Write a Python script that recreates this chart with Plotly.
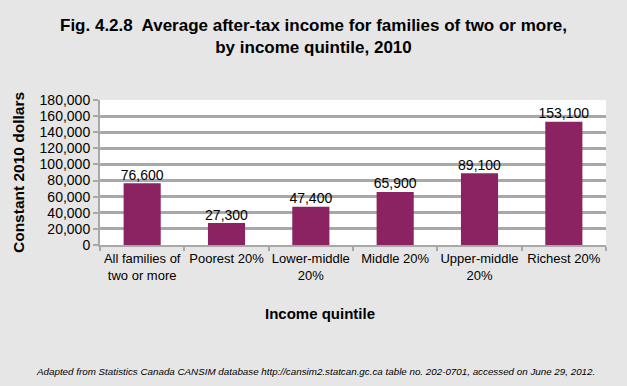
import plotly.graph_objects as go

categories = ["All families of<br>two or more", "Poorest 20%", "Lower-middle<br>20%",
              "Middle 20%", "Upper-middle<br>20%", "Richest 20%"]
values = [76600, 27300, 47400, 65900, 89100, 153100]
value_labels = ["76,600", "27,300", "47,400", "65,900", "89,100", "153,100"]
y_ticks = [0, 20000, 40000, 60000, 80000, 100000, 120000, 140000, 160000, 180000]
y_tick_labels = ["0", "20,000", "40,000", "60,000", "80,000", "100,000", "120,000",
                 "140,000", "160,000", "180,000"]

FONT = "Arial, Liberation Sans, sans-serif"
GRID = "#a8a8a8"

fig = go.Figure()
fig.add_trace(go.Bar(
    x=categories, y=values,
    marker=dict(color="#8b2363", line=dict(width=0)),
))
fig.add_trace(go.Scatter(
    x=categories, y=values, mode="text", text=value_labels,
    textposition="top center", cliponaxis=False,
    textfont=dict(color="black", size=14, family=FONT), hoverinfo="skip",
))

fig.update_layout(
    width=627, height=386,
    paper_bgcolor="#e6e6e6", plot_bgcolor="white",
    margin=dict(l=100, r=21, t=100, b=141),
    bargap=0.56, showlegend=False,
    font=dict(family=FONT, color="black", size=14),
    title=dict(text="<b>Fig. 4.2.8  Average after-tax income for families of two or more,<br>by income quintile, 2010</b>",
               x=0.5, xanchor="center", y=0.92, yanchor="top",
               font=dict(size=17, family=FONT)),
    xaxis=dict(showgrid=False, tickson="boundaries", ticks="outside", ticklen=4,
               tickcolor=GRID, tickwidth=2, showline=True, linecolor=GRID,
               linewidth=2, tickangle=0,
               tickfont=dict(size=13)),
    yaxis=dict(range=[0, 180000], tickvals=y_ticks, ticktext=y_tick_labels,
               showgrid=True, gridcolor=GRID, gridwidth=3,
               ticks="outside", ticklen=5, tickcolor=GRID, tickwidth=2,
               showline=True, linecolor=GRID, linewidth=2, zeroline=False,
               tickfont=dict(size=14),
               title=dict(text="<b>Constant 2010 dollars</b>", font=dict(size=15.5), standoff=11)),
)

fig.add_annotation(
    text="<b>Income quintile</b>",
    xref="paper", yref="paper", x=0.435, xanchor="center", y=-0.469, yanchor="middle",
    showarrow=False, font=dict(size=15, family=FONT),
)
fig.add_annotation(
    text="<i>Adapted from Statistics Canada CANSIM database http://cansim2.statcan.gc.ca table no. 202-0701, accessed on June 29, 2012.</i>",
    xref="paper", yref="paper", x=0.425, xanchor="center", y=-0.869, yanchor="middle",
    showarrow=False, font=dict(size=9.8, family=FONT),
)

fig.write_html("out.html", config={"displayModeBar": False},
               post_script="document.body.style.margin='0';")
